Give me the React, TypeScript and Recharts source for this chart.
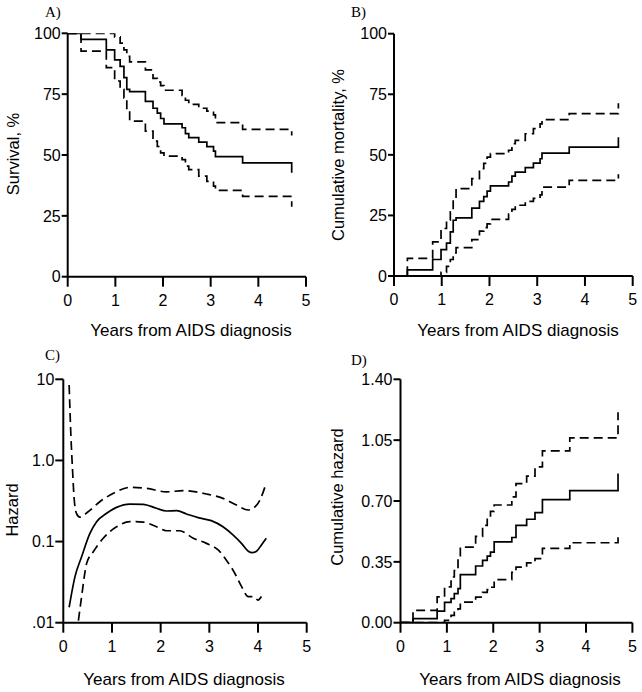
import React from 'react';
import { LineChart, Line, XAxis, YAxis } from 'recharts';

const FONT = "'Liberation Sans', Arial, Helvetica, sans-serif";
const SERIF = "'Liberation Serif', 'Times New Roman', Times, serif";

// ---- Panel A / B : Kaplan-Meier (years) ----
const kmTimes = [0, 0.28, 0.81, 0.985, 1.10, 1.18, 1.24, 1.30, 1.63, 1.79, 1.88, 1.95, 2.02, 2.40, 2.47, 2.54, 2.75, 2.92, 3.06, 3.10, 3.67, 4.70, 4.70];

// A) Survival, %
const survMid = [100, 97.5, 93.2, 89.1, 86.4, 81.8, 77.0, 76.0, 72.0, 69.2, 67.2, 65.0, 62.8, 61.2, 58.8, 57.1, 55.3, 53.4, 51.6, 49.3, 46.8, 46.8, 42.7];
const survHigh = [100, 100, 100, 98.5, 96.0, 93.2, 90.5, 88.3, 85.0, 81.5, 80.0, 78.5, 76.6, 74.5, 72.5, 70.8, 69.2, 68.0, 66.5, 63.3, 60.5, 60.5, 58.0];
const survLow = [100, 92.7, 85.9, 80.4, 77.0, 73.5, 68.5, 63.9, 59.8, 55.7, 53.5, 50.9, 49.5, 48.1, 45.4, 44.0, 41.3, 39.2, 37.2, 35.5, 33.0, 33.0, 28.7];

// B) Cumulative mortality, %
const mortMid = [0, 2.5, 6.8, 10.9, 13.6, 18.2, 23.0, 24.0, 28.0, 30.8, 32.8, 35.0, 37.2, 38.8, 41.2, 42.9, 44.7, 46.6, 48.4, 50.7, 53.2, 53.2, 57.3];
const mortHigh = [0, 7.3, 14.1, 19.6, 23.0, 26.5, 31.5, 36.1, 40.2, 44.3, 46.5, 49.1, 50.5, 51.9, 54.6, 56.0, 58.7, 60.8, 62.8, 64.5, 67.0, 67.0, 71.3];
const mortLow = [0, 0, 0, 1.5, 4.0, 6.8, 9.5, 11.7, 15.0, 18.5, 20.0, 21.5, 23.4, 25.5, 27.5, 29.2, 30.8, 32.0, 33.5, 36.7, 39.5, 39.5, 42.0];

// C) Hazard (log scale)
const hazMidT = [0.12, 0.24, 0.376, 0.547, 0.684, 0.889, 1.094, 1.368, 1.64, 1.915, 2.12, 2.33, 2.53, 2.77, 3.04, 3.28, 3.49, 3.66, 3.80, 3.88, 3.97, 4.07, 4.17];
const hazMidV = [0.0155, 0.037, 0.065, 0.126, 0.176, 0.223, 0.264, 0.29, 0.288, 0.257, 0.238, 0.24, 0.219, 0.197, 0.181, 0.152, 0.12, 0.095, 0.076, 0.073, 0.076, 0.091, 0.11];
const hazHighT = [0.12, 0.157, 0.19, 0.22, 0.27, 0.34, 0.51, 0.75, 1.03, 1.37, 1.71, 2.12, 2.46, 2.94, 3.28, 3.56, 3.80, 3.90, 4.04, 4.17];
const hazHighV = [8.5, 1.96, 0.76, 0.357, 0.223, 0.2, 0.233, 0.31, 0.393, 0.466, 0.453, 0.41, 0.424, 0.386, 0.341, 0.282, 0.245, 0.257, 0.325, 0.532];
const hazLowT = [0.31, 0.376, 0.48, 0.616, 0.82, 1.094, 1.368, 1.64, 1.915, 2.12, 2.39, 2.67, 2.94, 3.18, 3.35, 3.52, 3.66, 3.80, 3.90, 4.0, 4.07];
const hazLowV = [0.0106, 0.021, 0.054, 0.075, 0.11, 0.152, 0.176, 0.174, 0.152, 0.136, 0.136, 0.11, 0.095, 0.079, 0.059, 0.041, 0.028, 0.021, 0.021, 0.019, 0.021];

// D) Cumulative hazard
const chTimes = [0, 0.27, 0.79, 0.95, 1.09, 1.16, 1.24, 1.29, 1.62, 1.77, 1.87, 1.94, 2.02, 2.40, 2.49, 2.72, 2.90, 3.06, 3.65, 4.69, 4.69];
const chMid = [0, 0.023, 0.067, 0.117, 0.138, 0.167, 0.196, 0.276, 0.326, 0.358, 0.383, 0.406, 0.465, 0.49, 0.56, 0.595, 0.633, 0.708, 0.76, 0.76, 0.858];
const chHigh = [0, 0.071, 0.148, 0.206, 0.263, 0.30, 0.36, 0.435, 0.496, 0.56, 0.607, 0.64, 0.677, 0.724, 0.80, 0.843, 0.896, 0.988, 1.063, 1.063, 1.21];
const chLow = [0, 0, 0, 0.013, 0.042, 0.06, 0.08, 0.118, 0.147, 0.175, 0.19, 0.204, 0.248, 0.29, 0.32, 0.344, 0.369, 0.427, 0.46, 0.46, 0.504];

const xTicks = [0, 1, 2, 3, 4, 5];
const pctTicks = [0, 25, 50, 75, 100];
const hazTicks = [0.01, 0.1, 1, 10];
const chTicks = [0, 0.35, 0.7, 1.05, 1.4];

const zip = (ts: number[], ys: number[]) => ts.map((t, i) => ({ t, v: ys[i] }));

const fmtHaz = (v: number) => (v >= 10 ? '10' : v >= 1 ? '1.0' : v >= 0.1 ? '0.1' : '.01');
const fmtCh = (v: number) => v.toFixed(2);

type Series = { points: { t: number; v: number }[]; dashed?: boolean };

function Panel(props: {
  left: number; top: number; w: number; h: number;
  plot: { l: number; r: number; t: number; b: number };
  yDomain: [number, number]; yTicks: number[]; yFmt?: (v: number) => string;
  log?: boolean; curve: 'stepAfter' | 'monotone'; series: Series[]; yTick?: number;
}) {
  const { left, top, w, h, plot, yDomain, yTicks, yFmt, log, curve, series, yTick } = props;
  const XH = 40;
  const axisStyle = { stroke: '#000', strokeWidth: 2 };
  const tickStyle = { fill: '#000', fontSize: 16, fontFamily: FONT };
  return (
    <div style={{ position: 'absolute', left, top, width: w, height: h }}>
      <LineChart width={w} height={h}
        margin={{ top: plot.t, right: w - plot.r, bottom: h - plot.b - XH, left: 0 }}>
        <XAxis type="number" dataKey="t" domain={[0, 5]} ticks={xTicks} interval={0}
          allowDataOverflow height={XH} axisLine={axisStyle} tickLine={axisStyle}
          tickSize={10} tickMargin={8} tick={tickStyle} />
        <YAxis type="number" dataKey="v" domain={yDomain} ticks={yTicks} interval={0}
          scale={log ? 'log' : 'linear'} allowDataOverflow width={plot.l}
          axisLine={axisStyle} tickLine={axisStyle} tickSize={yTick ?? 6} tickMargin={1}
          tick={tickStyle} tickFormatter={yFmt} />
        {series.map((s, i) => (
          <Line key={i} data={s.points} dataKey="v" type={curve} stroke="#000"
            strokeWidth={1.7} strokeDasharray={s.dashed ? '9 5' : undefined}
            dot={false} activeDot={false} isAnimationActive={false} />
        ))}
      </LineChart>
    </div>
  );
}

export default function App() {
  const txt = { fontFamily: FONT, fontSize: 17, fill: '#000' };
  const ytxt = { fontFamily: FONT, fontSize: 16.5, fill: '#000' };
  const lab = { fontFamily: SERIF, fontSize: 15, fill: '#000' };
  const yTitle = (x: number, y: number, s: string) => (
    <text transform={`translate(${x},${y}) rotate(-90)`} textAnchor="middle"
      dominantBaseline="central" style={ytxt}>{s}</text>
  );
  return (
    <div style={{ position: 'absolute', left: 0, top: 0, width: 642, height: 692, background: '#fff' }}>
      <Panel left={0} top={0} w={321} h={346}
        plot={{ l: 67.7, r: 306, t: 33.3, b: 276.7 }}
        yDomain={[0, 100]} yTicks={pctTicks} curve="stepAfter"
        series={[
          { points: zip(kmTimes, survMid) },
          { points: zip(kmTimes, survHigh), dashed: true },
          { points: zip(kmTimes, survLow), dashed: true },
        ]} />
      <Panel left={321} top={0} w={321} h={346}
        plot={{ l: 73, r: 311.7, t: 33.7, b: 276 }}
        yDomain={[0, 100]} yTicks={pctTicks} curve="stepAfter"
        series={[
          { points: zip(kmTimes, mortMid) },
          { points: zip(kmTimes, mortHigh), dashed: true },
          { points: zip(kmTimes, mortLow), dashed: true },
        ]} />
      <Panel left={0} top={346} w={321} h={346}
        plot={{ l: 63.3, r: 306.7, t: 33.3, b: 276.7 }}
        yDomain={[0.01, 10]} yTicks={hazTicks} yFmt={fmtHaz} log curve="monotone" yTick={8}
        series={[
          { points: zip(hazMidT, hazMidV) },
          { points: zip(hazHighT, hazHighV), dashed: true },
          { points: zip(hazLowT, hazLowV), dashed: true },
        ]} />
      <Panel left={321} top={346} w={321} h={346}
        plot={{ l: 79.5, r: 311.4, t: 33.3, b: 276.7 }}
        yDomain={[0, 1.4]} yTicks={chTicks} yFmt={fmtCh} curve="stepAfter" yTick={7}
        series={[
          { points: zip(chTimes, chMid) },
          { points: zip(chTimes, chHigh), dashed: true },
          { points: zip(chTimes, chLow), dashed: true },
        ]} />
      <svg width={642} height={692} style={{ position: 'absolute', left: 0, top: 0, pointerEvents: 'none' }}>
        <text x={45} y={12} dominantBaseline="central" style={lab}>A)</text>
        <text x={351} y={12} dominantBaseline="central" style={lab}>B)</text>
        <text x={45} y={355} dominantBaseline="central" style={lab}>C)</text>
        <text x={351} y={360} dominantBaseline="central" style={lab}>D)</text>
        <text x={191} y={330} textAnchor="middle" dominantBaseline="central" style={txt}>Years from AIDS diagnosis</text>
        <text x={518} y={330} textAnchor="middle" dominantBaseline="central" style={txt}>Years from AIDS diagnosis</text>
        <text x={184} y={679} textAnchor="middle" dominantBaseline="central" style={txt}>Years from AIDS diagnosis</text>
        <text x={520} y={679} textAnchor="middle" dominantBaseline="central" style={txt}>Years from AIDS diagnosis</text>
        {yTitle(13, 154, 'Survival, %')}
        {yTitle(338, 155, 'Cumulative mortality, %')}
        {yTitle(12, 510, 'Hazard')}
        {yTitle(337, 497, 'Cumulative hazard')}
      </svg>
    </div>
  );
}
